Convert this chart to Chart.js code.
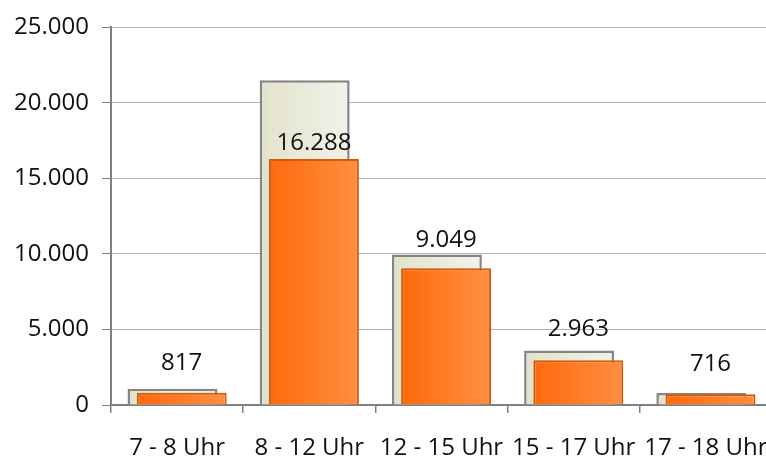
<!DOCTYPE html>
<html>
<head>
<meta charset="utf-8">
<script src="https://cdn.jsdelivr.net/npm/chart.js@4.4.1/dist/chart.umd.min.js"></script>
<style>
  html, body { margin: 0; padding: 0; background: #ffffff; overflow: hidden; }
  #wrap { position: absolute; left: 0; top: 0; width: 766px; height: 459px; overflow: hidden; }
  canvas { display: block; }
</style>
</head>
<body>
<div id="wrap"><canvas id="c" width="776" height="459" style="width:776px;height:459px"></canvas></div>
<script>
// ---- data ----
const categories = ['7 - 8 Uhr', '8 - 12 Uhr', '12 - 15 Uhr', '15 - 17 Uhr', '17 - 18 Uhr'];
const backValues = [1070, 21500, 9960, 3610, 800];
const frontValues = [817, 16288, 9049, 2963, 716];
const yMin = 0;
const yMax = 25000;
const yStep = 5000;

// ---- style config ----
const CAT_PCT = 0.1394;
const BAR_PCT = 9.76;
const labelGaps = [23, 9, 21, 24, 23];
const FONT = '"Open Sans", "Noto Sans", sans-serif';

function fmt(v) {
  return String(Math.round(v)).replace(/\B(?=(\d{3})+(?!\d))/g, '.');
}

function barGradient(c0, c1, stackIdx) {
  return (ctx) => {
    const chart = ctx.chart;
    const xs = chart.scales && chart.scales.x;
    if (!xs || ctx.dataIndex === undefined || !chart.chartArea) return c0;
    const cw = xs.width / categories.length;
    const size = cw * CAT_PCT;
    const chunk = size / 2;
    const center = xs.getPixelForValue(ctx.dataIndex) - size / 2 + chunk * stackIdx + chunk / 2;
    const w = chunk * BAR_PCT;
    const g = chart.ctx.createLinearGradient(center - w / 2, 0, center + w / 2, 0);
    g.addColorStop(0, c0);
    g.addColorStop(1, c1);
    return g;
  };
}

const frontOnTop = {
  id: 'frontOnTop',
  beforeDatasetDraw(chart, args) {
    if (args.index === 1 && !chart.$drawingFront) return false;
  },
  afterDatasetsDraw(chart) {
    chart.$drawingFront = true;
    chart.getDatasetMeta(1).controller.draw();
    chart.$drawingFront = false;
    const ctx = chart.ctx;
    const meta = chart.getDatasetMeta(1);
    ctx.save();
    ctx.font = '24px ' + FONT;
    ctx.fillStyle = '#111111';
    ctx.textAlign = 'center';
    ctx.textBaseline = 'alphabetic';
    meta.data.forEach((el, i) => {
      ctx.fillText(fmt(frontValues[i]), el.x, el.y - labelGaps[i]);
    });
    ctx.restore();
  }
};

new Chart(document.getElementById('c'), {
  type: 'bar',
  data: {
    labels: categories,
    datasets: [
      {
        label: 'back',
        data: backValues,
        backgroundColor: barGradient('#e2e2cb', '#f2f2ea', 0),
        borderColor: '#858585',
        borderWidth: 2.5,
        categoryPercentage: CAT_PCT,
        barPercentage: BAR_PCT
      },
      {
        label: 'front',
        data: frontValues,
        backgroundColor: barGradient('#ff6a0c', '#ff8f44', 1),
        borderColor: '#d35a08',
        borderWidth: 2,
        categoryPercentage: CAT_PCT,
        barPercentage: BAR_PCT
      }
    ]
  },
  options: {
    responsive: false,
    devicePixelRatio: 1,
    animation: false,
    layout: { padding: { top: 26, right: 4, left: 0, bottom: 0 } },
    plugins: { legend: { display: false }, tooltip: { enabled: false } },
    scales: {
      x: {
        afterFit(scale) { scale.height = 54; scale.paddingLeft = 0; scale.paddingRight = 0; },
        grid: {
          drawOnChartArea: false,
          drawTicks: true,
          tickLength: 8,
          tickColor: '#808080',
          lineWidth: 1.5,
          offset: true
        },
        border: { display: true, color: '#808080', width: 2 },
        ticks: {
          color: '#111111',
          font: { family: FONT, size: 24 },
          padding: 21,
          maxRotation: 0,
          autoSkip: false
        }
      },
      y: {
        min: yMin,
        max: yMax,
        afterFit(scale) { scale.width = 111; },
        grid: {
          color: '#b4b4b4',
          lineWidth: 1,
          tickLength: 9,
          tickColor: '#808080'
        },
        border: { display: true, color: '#808080', width: 2 },
        ticks: {
          stepSize: yStep,
          color: '#111111',
          font: { family: FONT, size: 24 },
          padding: 13,
          callback: (v) => fmt(v)
        }
      }
    }
  },
  plugins: [frontOnTop]
});
</script>
</body>
</html>
